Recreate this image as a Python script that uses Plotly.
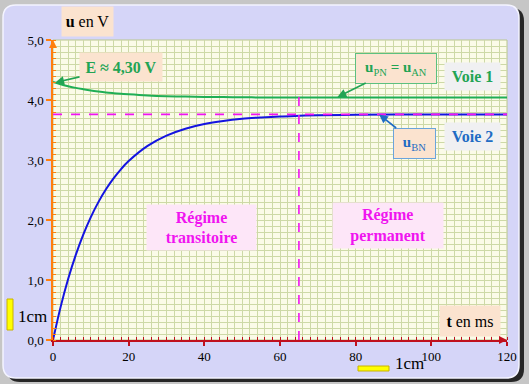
import plotly.graph_objects as go

# ---------------- data ----------------
t_ms = [0, 2, 4, 6, 8, 10, 12, 14, 16, 18, 20, 25, 30, 35, 40, 45, 50, 55, 60, 65, 70, 80, 90, 100, 110, 120]
u_voie1 = [4.30, 4.262, 4.230, 4.202, 4.179, 4.158, 4.141, 4.126, 4.114, 4.103, 4.094, 4.076, 4.064,
           4.057, 4.051, 4.048, 4.045, 4.043, 4.042, 4.041, 4.041, 4.040, 4.040, 4.040, 4.040, 4.040]
u_voie2 = [0.0, 0.548, 1.016, 1.415, 1.757, 2.049, 2.298, 2.512, 2.693, 2.849, 2.982, 3.235, 3.406,
           3.521, 3.599, 3.651, 3.687, 3.710, 3.727, 3.737, 3.745, 3.753, 3.757, 3.759, 3.760, 3.760]
u_final = 3.76        # asymptote of voie 2
t_regime = 65         # end of transient regime (≈ 5 tau)
u_vline_top = 4.1

x_tickvals = [0, 20, 40, 60, 80, 100, 120]
x_ticktext = ["0", "20", "40", "60", "80", "100", "120"]
y_tickvals = [0, 1, 2, 3, 4, 5]
y_ticktext = ["0,0", "1,0", "2,0", "3,0", "4,0", "5,0"]

# ---------------- geometry helpers ----------------
W, H = 529, 384
ML, MR, MT, MB = 53, 22, 40, 44
PW, PH = W - ML - MR, H - MT - MB


def P(px, py):
    return (px - ML) / PW, (H - MB - py) / PH


def rrect(x0, y0, x1, y1, r):
    def s(px, py):
        a, b = P(px, py)
        return f"{a:.5f},{b:.5f}"
    return (f"M {s(x0 + r, y0)} L {s(x1 - r, y0)} Q {s(x1, y0)} {s(x1, y0 + r)} "
            f"L {s(x1, y1 - r)} Q {s(x1, y1)} {s(x1 - r, y1)} L {s(x0 + r, y1)} "
            f"Q {s(x0, y1)} {s(x0, y1 - r)} L {s(x0, y0 + r)} Q {s(x0, y0)} {s(x0 + r, y0)} Z")


FONT = "Liberation Serif"
GREEN = "#22a454"
BLUE_TXT = "#1f6cc4"
MAGENTA = "#f014f0"
BEIGE = "#fbe3cf"

fig = go.Figure()
fig.add_trace(go.Scatter(x=t_ms, y=u_voie1, mode="lines", line=dict(color="#1fae55", width=2, shape="spline"),
                         hoverinfo="skip"))
fig.add_trace(go.Scatter(x=t_ms, y=u_voie2, mode="lines", line=dict(color="#1414e0", width=2, shape="spline"),
                         hoverinfo="skip"))

shapes = [
    dict(type="path", xref="paper", yref="paper", path=rrect(7, 8, 524, 382, 13),
         fillcolor="#262626", line=dict(width=0), layer="below"),
    dict(type="path", xref="paper", yref="paper", path=rrect(3, 5, 519, 378, 13),
         fillcolor="#d5d5f8", line=dict(color="#f4f4ff", width=1.5), layer="below"),
    dict(type="rect", xref="paper", yref="paper", x0=0, y0=0, x1=1, y1=1,
         fillcolor="#fbfbe8", line=dict(color="#b9c68e", width=1), layer="below"),
    dict(type="line", xref="x", yref="y", x0=0, x1=120, y0=u_final, y1=u_final,
         line=dict(color=MAGENTA, width=1.6, dash="dash")),
    dict(type="line", xref="x", yref="y", x0=t_regime, x1=t_regime, y0=0, y1=u_vline_top,
         line=dict(color=MAGENTA, width=1.6, dash="dash")),
]
# yellow "1cm" scale bars
for (x0, y0, x1, y1) in [(7, 299, 13, 330), (358, 366, 389, 371)]:
    a0, b0 = P(x0, y1)
    a1, b1 = P(x1, y0)
    shapes.append(dict(type="rect", xref="paper", yref="paper", x0=a0, y0=b0, x1=a1, y1=b1,
                       fillcolor="#ffff00", line=dict(color="#c9b200", width=1)))

annotations = []


def box(text, cx, cy, w, h, color, bg, size=16, border=None, head=None):
    ax, ay = P(cx, cy)
    d = dict(text=text, font=dict(family=FONT, size=size, color=color),
             width=w, height=h, bgcolor=bg, borderpad=3, align="center", valign="middle")
    if border:
        d.update(bordercolor=border, borderwidth=1)
    if head is None:
        d.update(xref="paper", yref="paper", x=ax, y=ay, xanchor="center", yanchor="middle", showarrow=False)
    else:
        hx, hy, acol = head
        hpx, hpy = ML + hx * PW / 120, H - MB - hy * PH / 5
        d.update(xref="x", yref="y", x=hx, y=hy, showarrow=True, ax=cx - hpx, ay=cy - hpy,
                 arrowhead=2, arrowsize=1.1, arrowwidth=1.6, arrowcolor=acol, standoff=0)
    annotations.append(d)


box("<b>u</b> en V", 87, 22, 45, 23, "black", BEIGE)
box("<b>t</b> en ms", 470, 321, 54, 24, "black", BEIGE)
box("<b>E ≈ 4,30 V</b>", 121, 67, 76, 22, GREEN, BEIGE, head=(0.6, 4.29, GREEN))
box("<b>u</b><sub>PN</sub><b> = u</b><sub>AN</sub>", 396, 68, 74, 23, GREEN, BEIGE, size=15,
    border="#5cc080", head=(75.2, 4.05, GREEN))
box("<b>Voie 1</b>", 472, 76, 49, 21, GREEN, "#f0f0f2")
box("<b>u</b><sub>BN</sub>", 415, 143, 35, 23, BLUE_TXT, BEIGE, size=15,
    border="#6aa4dc", head=(86.2, 3.76, BLUE_TXT))
box("<b>Voie 2</b>", 472, 136, 49, 21, BLUE_TXT, "#f0f0f2")
box("<b>Régime<br>transitoire</b>", 201, 227, 103, 39, MAGENTA, "#fde6f8", size=16)
box("<b>Régime<br>permanent</b>", 388, 225, 104, 39, MAGENTA, "#fde6f8", size=16)

# free text
for txt, cx, cy in [("1cm", 32, 316), ("1cm", 409, 363)]:
    a, b = P(cx, cy)
    annotations.append(dict(text=txt, xref="paper", yref="paper", x=a, y=b, xanchor="center",
                            yanchor="middle", showarrow=False,
                            font=dict(family=FONT, size=17, color="black")))

# axis arrowheads
annotations.append(dict(x=0, y=5, xref="x", yref="y", ax=0, ay=9, text="", showarrow=True,
                        arrowhead=2, arrowsize=1, arrowwidth=1.6, arrowcolor="#ff7f0e", standoff=0))
annotations.append(dict(x=120, y=0, xref="x", yref="y", ax=-9, ay=0, text="", showarrow=True,
                        arrowhead=2, arrowsize=1, arrowwidth=1.6, arrowcolor="#c0101e", standoff=0))

GRID = "#cdd9a6"
fig.update_layout(
    width=W, height=H,
    margin=dict(l=ML, r=MR, t=MT, b=MB, pad=0),
    paper_bgcolor="#c6c6c6",
    plot_bgcolor="rgba(0,0,0,0)",
    showlegend=False,
    shapes=shapes,
    annotations=annotations,
    font=dict(family=FONT, size=13, color="black"),
    xaxis=dict(range=[0, 120], tickvals=x_tickvals, ticktext=x_ticktext,
               showline=True, linecolor="#c0101e", linewidth=1.5,
               ticks="outside", ticklen=4, tickwidth=1.5, tickcolor="#c0101e",
               showgrid=True, gridcolor=GRID, gridwidth=1, zeroline=False,
               tickfont=dict(family=FONT, size=13, color="black"),
               minor=dict(dtick=2, ticks="inside", ticklen=3, tickcolor="#c0101e", tickwidth=1.2,
                          showgrid=True, gridcolor=GRID, gridwidth=1),
               fixedrange=True),
    yaxis=dict(range=[0, 5], tickvals=y_tickvals, ticktext=y_ticktext,
               showline=True, linecolor="#ff7f0e", linewidth=1.5,
               ticks="outside", ticklen=5, tickwidth=1.5, tickcolor="#ff7f0e",
               showgrid=True, gridcolor=GRID, gridwidth=1, zeroline=False,
               tickfont=dict(family=FONT, size=13, color="black"),
               minor=dict(dtick=0.1, ticks="inside", ticklen=3, tickcolor="#ff7f0e", tickwidth=1.2,
                          showgrid=True, gridcolor=GRID, gridwidth=1),
               fixedrange=True),
)

fig.write_html("out.html", config={"displayModeBar": False},
               post_script="document.body.style.margin='0';document.body.style.background='#c6c6c6';"
                           "document.body.style.overflow='hidden';")
